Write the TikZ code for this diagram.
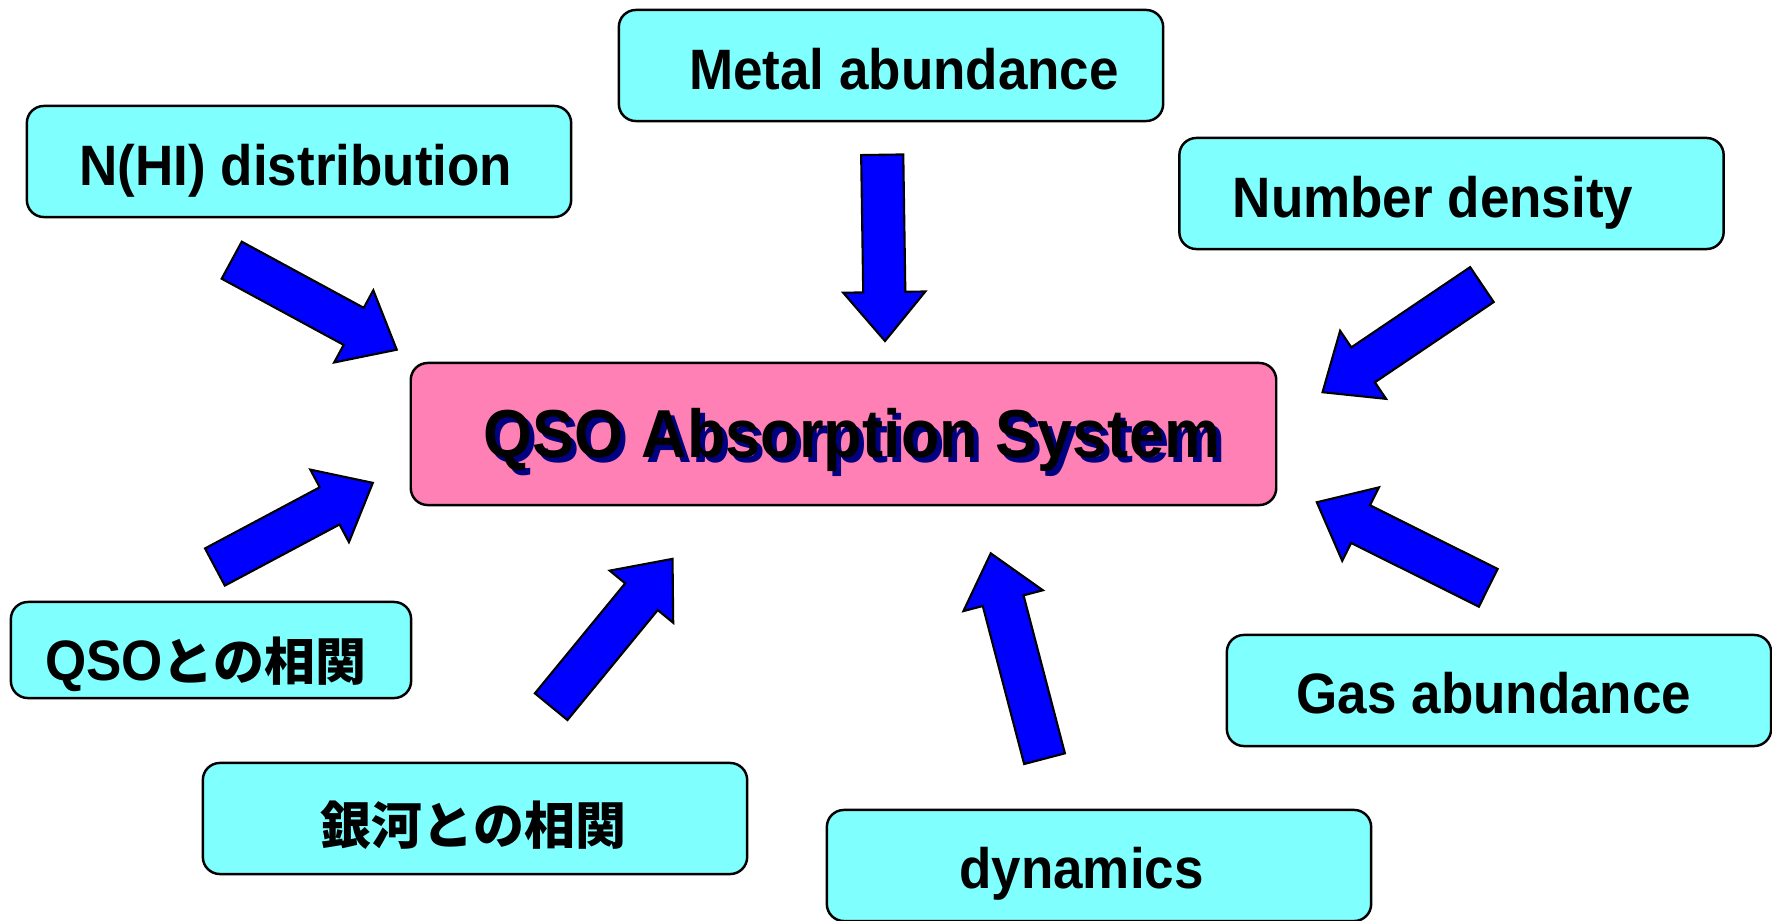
\documentclass[tikz,border=0pt]{standalone}
\usepackage{fontspec}
\setmainfont{Liberation Sans}[FakeStretch=0.93]
\newfontfamily\cjk{Noto Sans CJK JP}
\usetikzlibrary{shapes.arrows,calc}
\definecolor{topiccyan}{RGB}{128,255,255}
\definecolor{corepink}{RGB}{255,128,180}
\definecolor{arrowblue}{RGB}{0,0,255}
\definecolor{shadownavy}{RGB}{0,0,128}
\tikzset{topic/.style={draw, fill=topiccyan, rounded corners=0.17cm, line width=0.7pt,
  minimum width=5.44cm, minimum height=1.11cm, inner sep=0pt}, % the cyan boxes
core/.style={topic, fill=corepink}, % the box in the middle
caption/.style={anchor=base, inner sep=0pt, font=\bfseries\fontsize{16.2}{18}\selectfont},
blockarrow/.style={single arrow, draw=black, fill=arrowblue, line width=0.6pt, inner sep=0pt,
  text height=0.4cm, text depth=0pt, % shaft width
  single arrow head extend=0.2cm, single arrow tip angle=80, anchor=tail},
}
% drop-shadowed text for the title
\newcommand\shadowed[1]{\makebox[0pt][l]{\hspace{0.05cm}\raisebox{-0.05cm}{\color{shadownavy}#1}}#1}
% block arrow from one coordinate to another
\newcommand\pointer[2]{\path let \p1=($(#2)-(#1)$), \n1={veclen(\x1,\y1)}, \n2={atan2(\y1,\x1)} in
  node[blockarrow, minimum height=\n1, rotate=\n2] at (#1) {};}
\newcommand\jp[1]{{\cjk\fontsize{14.5}{16}\selectfont #1}}

\begin{document}
\begin{tikzpicture}[x=0.01cm, y=-0.01cm]
\useasboundingbox (0,0) rectangle (1772,921);
\node[core, minimum width=8.65cm, minimum height=1.42cm] (qas) at (843.5,434) {};
\node[caption, font=\bfseries\fontsize{19.3}{22}\selectfont] (qastext) at (852,457.7) {\shadowed{QSO Absorption System}};

\node[topic] (metal) at (891,65.5) {};
\node[caption] (metaltext) at (904,89.3) {Metal abundance};
\node[topic] (nhi) at (299,161.5) {};
\node[caption] (nhitext) at (296,185.3) {N(HI) distribution};
\node[topic] (numden) at (1451.5,193.5) {};
\node[caption] (numdentext) at (1433,217) {Number density};
\node[topic, minimum width=4cm, minimum height=0.96cm] (qsocor) at (211,650) {};
\node[caption] (qsocortext) at (205.7,680) {QSO\jp{との相関}};
\node[topic] (galcor) at (475,818.5) {};
\node[caption] (galcortext) at (473.5,844) {\jp{銀河との相関}};
\node[topic] (dyn) at (1099,865.5) {};
\node[caption] (dyntext) at (1081.5,888) {dynamics};
\node[topic] (gas) at (1499,690.5) {};
\node[caption] (gastext) at (1494,713) {Gas abundance};

% arrows pointing at the middle box
\coordinate (nhi-t) at (230.8,259.7);   \coordinate (nhi-h) at (396,349.3);
\coordinate (metal-t) at (882.2,153.7); \coordinate (metal-h) at (885,340);
\coordinate (numden-t) at (1482.8,284); \coordinate (numden-h) at (1323.3,391.7);
\coordinate (qsocor-t) at (214,567.5);  \coordinate (qsocor-h) at (372,483.3);
\coordinate (galcor-t) at (550.5,707.5); \coordinate (galcor-h) at (672,559.5);
\coordinate (dyn-t) at (1044.8,759.7);  \coordinate (dyn-h) at (991,554.3);
\coordinate (gas-t) at (1489.2,588.3);  \coordinate (gas-h) at (1317.7,502.7);
\foreach \a in {nhi,metal,numden,qsocor,galcor,dyn,gas}
  \pointer{\a-t}{\a-h};
\end{tikzpicture}
\end{document}
